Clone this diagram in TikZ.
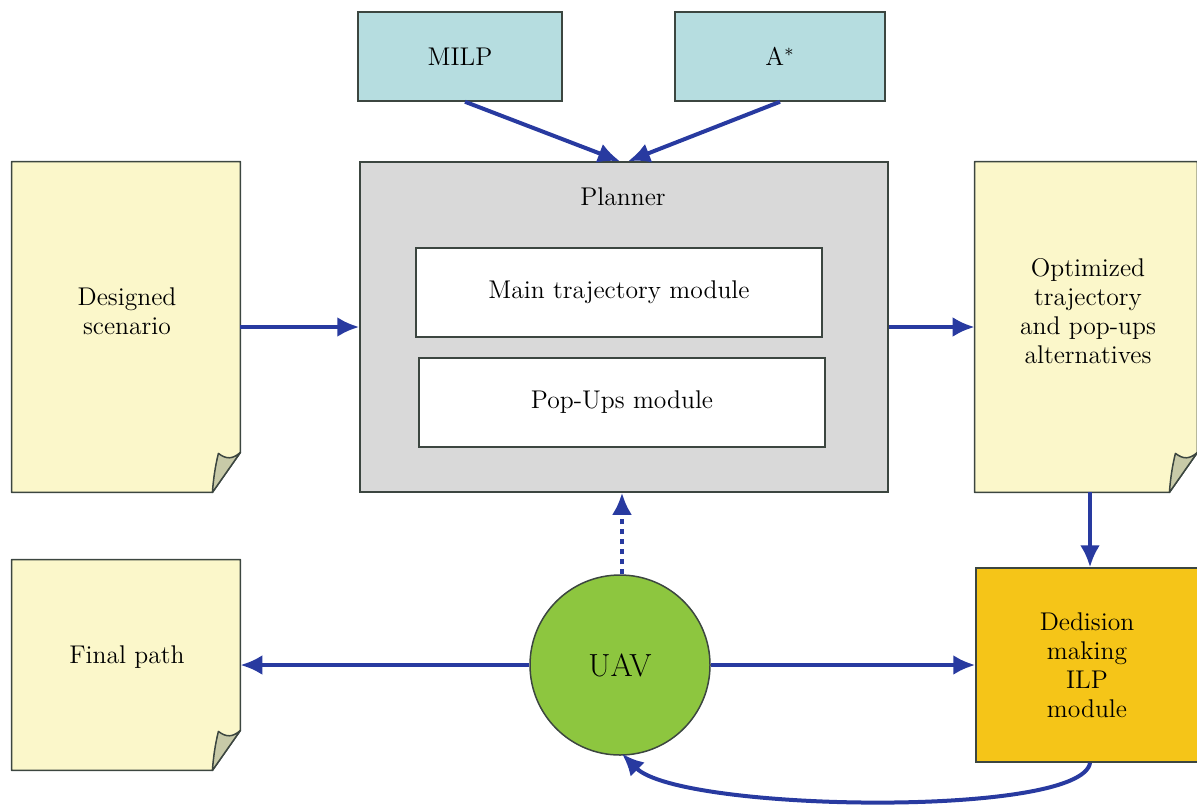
\documentclass[tikz,border=0pt]{standalone}
\usetikzlibrary{arrows.meta,calc,backgrounds}
\definecolor{boxblue}{RGB}{182,221,224}
\definecolor{plgray}{RGB}{217,217,217}
\definecolor{doccream}{RGB}{251,247,202}
\definecolor{flapcol}{RGB}{200,202,168}
\definecolor{uavgreen}{RGB}{141,198,63}
\definecolor{decgold}{RGB}{245,197,24}
\definecolor{edgecol}{RGB}{60,70,64}
\definecolor{arrblue}{RGB}{40,58,160}
\tikzset{
  base/.style={draw=edgecol, line width=0.75pt, align=center, inner sep=0pt},
  topbox/.style={base, fill=boxblue, minimum height=44.5pt},
  modbox/.style={base, fill=white, minimum width=203pt, minimum height=44.5pt},
  docgeom/.style={inner sep=0pt},
  doctext/.style={align=center, inner sep=0pt},
  docstyle/.style={fill=doccream, draw=edgecol, line width=0.75pt, line join=round},
  flapstyle/.style={fill=flapcol, draw=edgecol, line width=0.75pt, line join=round},
  conn/.style={draw=arrblue, line width=2pt, -{Latex[length=11pt,width=10pt]}},
}
\newcommand\docdraw[1]{%
  \path[docstyle] (#1.north west) -- (#1.north east) -- ($(#1.south east)+(0,-40)$)
    -- ($(#1.south east)+(-28,0)$) -- (#1.south west) -- cycle;
  \path[flapstyle] ($(#1.south east)+(0,-40)$) .. controls +(-8,7) and +(8,6) ..
    ($(#1.south east)+(-22,-39)$) .. controls +(-3,12) and +(1,-14) .. ($(#1.south east)+(-28,0)$) -- cycle;
}
\begin{document}
\begin{tikzpicture}[x=0.5pt,y=-0.5pt,font=\fontsize{12.8}{14.5}\selectfont]
\useasboundingbox (0,0) rectangle (1197,809);
% top boxes
\node[topbox, minimum width=102pt] (milp) at (460,56.5) {MILP};
\node[topbox, minimum width=105pt] (astar) at (780,56.5) {A$^{*}$};
% planner
\node[base, fill=plgray, minimum width=264pt, minimum height=165pt] (planner) at (624,327) {};
\node (plabel) at (623,197) {Planner};
\node[modbox] (main) at (619,292.5) {Main trajectory module};
\node[modbox] (pop) at (622,402.5) {Pop-Ups module};
% documents
\node[docgeom, minimum width=114pt, minimum height=165pt] (ds) at (126,327) {};
\node[docgeom, minimum width=111pt, minimum height=165pt] (opt) at (1086,327) {};
\node[docgeom, minimum width=114pt, minimum height=105pt] (fp) at (126,665) {};
\begin{scope}[on background layer]
  \docdraw{ds}
  \docdraw{opt}
  \docdraw{fp}
\end{scope}
\node[doctext] (dstext) at (127,311) {Designed\\scenario};
\node[doctext] (opttext) at (1088,311) {Optimized\\trajectory\\and pop-ups\\alternatives};
\node[doctext] (fptext) at (127,657) {Final path};
% UAV and decision
\node[base, circle, fill=uavgreen, minimum size=90pt, font=\fontsize{16}{18}\selectfont] (uav) at (620,665) {UAV};
\node[base, fill=decgold, minimum width=111pt, minimum height=97pt] (dec) at (1087,665) {Dedision\\making\\ILP\\module};
% connectors
\draw[conn] ($(milp.south)+(5,0)$) -- ($(planner.north)+(-4,0)$);
\draw[conn] (astar.south) -- ($(planner.north)+(4,0)$);
\draw[conn] (ds.east) -- (planner.west);
\draw[conn] (planner.east) -- (opt.west);
\draw[conn] ($(opt.south)+(4,0)$) -- ($(dec.north)+(3,0)$);
\draw[conn] (uav.west) -- (fp.east);
\draw[conn] (uav.east) -- (dec.west);
\draw[conn, dash pattern=on 2.5pt off 2.5pt] ($(uav.north)+(2,0)$) -- ($(planner.south)+(-2,0)$);
\draw[conn] ($(dec.south)+(3,0)$) .. controls (1082,818) and (680,812) .. ($(uav.south)+(2,-2)$);
\end{tikzpicture}
\end{document}
